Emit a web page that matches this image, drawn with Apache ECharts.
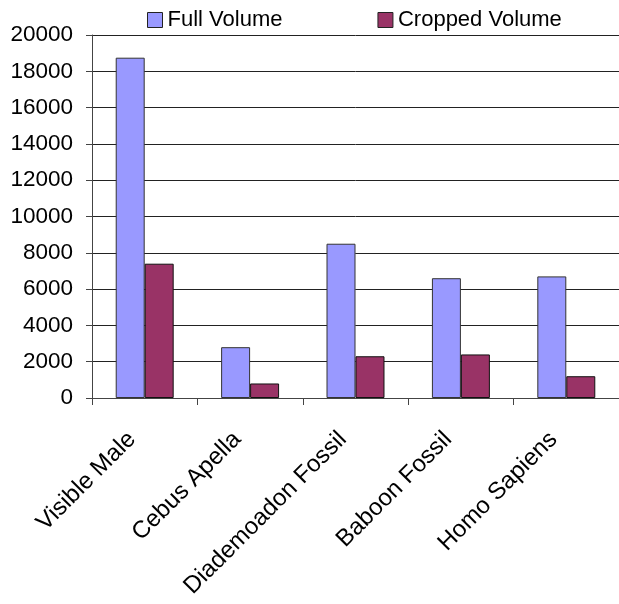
<!DOCTYPE html>
<html>
<head>
<meta charset="utf-8">
<script src="https://cdn.jsdelivr.net/npm/echarts@6/dist/echarts.min.js"></script>
<style>
  html, body { margin: 0; padding: 0; background: #fff; }
  #chart { width: 619px; height: 604px; }
</style>
</head>
<body>
<div id="chart"></div>
<script>
// Specimens and their scan volumes
const categories = ['Visible Male', 'Cebus Apella', 'Diademoadon Fossil', 'Baboon Fossil', 'Homo Sapiens'];
const fullVolume = [18750, 2800, 8500, 6600, 6700];
const croppedVolume = [7400, 800, 2300, 2400, 1200];
const seriesNames = ['Full Volume', 'Cropped Volume'];

const FONT = '"Liberation Sans", Arial, sans-serif';

const chart = echarts.init(document.getElementById('chart'), null, { renderer: 'canvas' });

chart.setOption({
  animation: false,
  backgroundColor: '#ffffff',
  legend: {
    top: 4,
    left: 142,
    itemWidth: 15,
    itemHeight: 15,
    itemGap: 95,
    icon: 'rect',
    textStyle: { fontFamily: FONT, fontSize: 22, color: '#000' },
    itemStyle: { borderColor: '#222', borderWidth: 1 },
    data: seriesNames
  },
  grid: { left: 92, right: -3, top: 35, bottom: 206, containLabel: false },
  xAxis: {
    type: 'category',
    data: categories,
    boundaryGap: true,
    axisLine: { lineStyle: { color: '#444', width: 1 } },
    axisTick: { show: true, length: 7, lineStyle: { color: '#444' } },
    axisLabel: {
      rotate: 45,
      interval: 0,
      margin: 25,
      padding: [0, 18, 0, 0],
      fontFamily: FONT,
      fontSize: 24,
      color: '#000'
    }
  },
  yAxis: {
    type: 'value',
    min: 0,
    max: 20000,
    interval: 2000,
    axisLine: { show: true, lineStyle: { color: '#444', width: 1 } },
    axisTick: { show: true, length: 6, lineStyle: { color: '#444' } },
    splitLine: { show: true, lineStyle: { color: '#222', width: 1 } },
    axisLabel: {
      margin: 19,
      fontFamily: FONT,
      fontSize: 22.5,
      color: '#000',
      formatter: function (v) { return String(v); }
    }
  },
  series: [
    {
      name: seriesNames[0],
      type: 'bar',
      data: fullVolume,
      barGap: '0%',
      barCategoryGap: '45%',
      itemStyle: { color: '#9999ff', borderColor: '#333', borderWidth: 1 }
    },
    {
      name: seriesNames[1],
      type: 'bar',
      data: croppedVolume,
      itemStyle: { color: '#993366', borderColor: '#111', borderWidth: 1 }
    }
  ]
});
</script>
</body>
</html>
